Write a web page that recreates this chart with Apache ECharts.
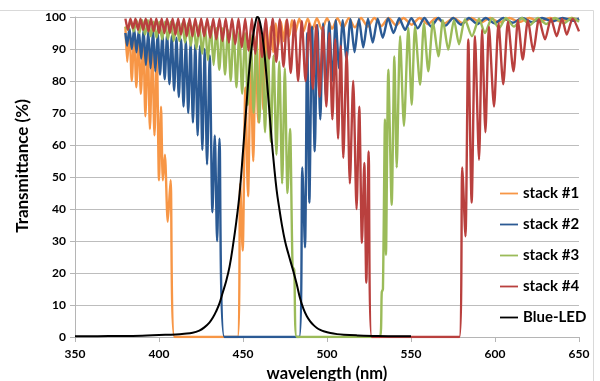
<!DOCTYPE html>
<html>
<head>
<meta charset="utf-8">
<script src="https://cdn.jsdelivr.net/npm/echarts@6/dist/echarts.min.js"></script>
<style>html,body{margin:0;padding:0;background:#fff;overflow:hidden;}#c{width:600px;height:381px;}</style>
</head>
<body>
<div id="c"></div>
<script>
var seriesNames = ['stack #1', 'stack #2', 'stack #3', 'stack #4', 'Blue-LED'];
var xTicks = [350, 400, 450, 500, 550, 600, 650];
var yTicks = [0, 10, 20, 30, 40, 50, 60, 70, 80, 90, 100];

var stack1 = [
[380,97],[381.1,86],[382.4,96],[383.8,80],[385.2,95],[386.5,78],[387.9,94],[389.2,76],[390.6,93],[391.9,69],[393.3,92],[394.6,65],[396,91],[397.3,63],[398.7,89],[400,49],[401.2,72],[402.3,49],[403.5,57],[405.2,36],[406.9,49],[409.2,0],
[446.8,0],[448.3,48],[449.8,27],[451.4,78],[453,44],[454.6,86],[456.1,55],[457.6,91],[459.1,67],[460.6,94],[462.1,71],[463.6,96],[465,86],[466.5,97],[468,89],[469.5,98],[471,91],[472.6,98.5],[474.2,92.5],[475.8,99],[477.5,94],[479.2,99],[481,95],[483.5,99.5],[486,95.5],[488.5,99.5],[491.2,96],[494,99.6],[497,96],[500,99.6],[503,96.3],[506.2,99.6],[509.5,96.5],[513,99.6],[516.6,96.8],[520.3,99.7],[524.2,97],[528.2,99.7],[532.4,97.2],[536.7,99.7],[541.1,97.4],[545.6,99.7],[550.3,97.6],[555.1,99.7],[560,97.8],[565,99.7],[570.1,98],[575.3,99.7],[580.6,98.1],[586,99.7],[591.5,98.2],[597.1,99.7],[602.8,98.3],[608.6,99.7],[614.5,98.4],[620.5,99.7],[626.6,98.5],[632.8,99.7],[639.1,98.6],[645.5,99.7],[650,98.8]
];

var stack2 = [
[380,95],[381,91],[382.4,96.5],[383.8,90],[385.2,96.5],[386.6,89],[388,96],[389.4,87],[390.8,96],[392.2,85],[393.6,95.5],[395,84],[396.4,95.5],[397.8,83],[399.2,95],[400.6,82],[402,95],[403.4,80.5],[404.8,94.5],[406.2,79],[407.6,94],[409,77],[410.4,93.5],[411.8,75],[413.2,93],[414.6,72],[416,92.5],[417.4,70],[418.8,92],[420.2,67],[421.6,91.5],[423,63],[424.4,91],[425.8,58.5],[427.2,90],[428.6,54],[430.2,88],[431.8,39],[433.2,63],[434.6,30],[436,62],[438.9,0],
[483.5,0],[485.3,53],[486.9,28],[488.2,95],[489.5,42],[491.1,97],[492.7,58],[494.3,97.5],[496,68],[497.7,98],[499.4,75],[501.3,98.5],[503.2,80],[505.2,99],[507.2,84],[509.4,99],[511.6,87],[514,99.3],[516.4,89],[519,99.4],[521.6,90.5],[524.4,99.5],[527.2,92],[530.2,99.5],[533.2,93.5],[536.4,99.6],[539.6,95],[543,99.6],[546.5,96],[550.2,99.6],[554,96.5],[558,99.7],[562,97],[566.3,99.7],[570.6,97.3],[575.1,99.7],[579.7,97.6],[584.5,99.7],[589.4,97.8],[594.5,99.7],[599.7,98],[605,99.7],[610.5,98.2],[616.2,99.7],[622,98.4],[628,99.7],[634,98.6],[640.3,99.7],[646.7,98.8],[650,99.5]
];

var stack3 = [
[380,97],[381.5,96],[383.2,99],[384.9,95.5],[386.6,99],[388.3,95],[390,99],[391.7,94.5],[393.4,99],[395.1,94],[396.8,98.5],[398.5,93.5],[400.2,98.5],[401.9,93],[403.6,98.5],[405.3,93],[407,98.5],[408.7,92.5],[410.4,98],[412.1,92.5],[413.8,98],[415.5,92],[417.2,98],[418.9,91],[420.6,97.5],[422.3,90],[424,97.5],[425.7,88.5],[427.4,97],[429.1,86.5],[430.8,97],[432.5,85],[434.2,96.5],[435.9,83.5],[437.6,96.5],[439.3,82],[441,96],[442.7,80],[444.4,96],[446.1,78],[447.8,95.5],[449.5,76],[451.2,95],[452.9,72.5],[454.6,94.5],[456.3,70],[458,94],[459.7,67],[461.4,93],[463.1,64],[464.8,91],[466.5,61],[468.2,88],[469.9,57],[471.6,86],[473.3,48],[474.9,84],[476.5,45],[478,65],[479.5,22],[480.5,21],[482,0],
[531.5,0],[532.6,14],[533.3,15],[534.5,68],[535.1,25.7],[536.5,83.5],[538.5,41.3],[540.1,87.7],[541.5,53],[543.5,94],[545.8,66],[548.4,96.6],[550.4,72.6],[552.4,97],[555.4,78.8],[557.7,98],[560.3,83],[563.1,98.5],[566.3,87.7],[569,99],[572.2,89.8],[575.6,99],[578.6,91.5],[582.1,99.3],[586.3,94],[590.5,99.5],[594,95],[598.2,99.6],[602.4,96.5],[606.5,99.7],[611.3,97],[616,99.7],[620.8,97.5],[625.6,99.7],[630.4,97.8],[635.7,99.7],[641,98],[645.8,99.7],[650,98.5]
];

var stack4 = [
[380,99.5],[381.5,96],[383,99.5],[384.5,96.5],[386,99.5],[387.5,96],[389,99.5],[390.6,96],[392.1,99.5],[393.7,95.5],[395.2,99.5],[396.8,95.5],[398.4,99.5],[400,95],[401.6,99.5],[403.2,95],[404.8,99.5],[406.5,95],[408.1,99.5],[409.8,94.5],[411.4,99.5],[413.1,94.5],[414.8,99.5],[416.5,94],[418.2,99.5],[419.9,94],[421.6,99.5],[423.4,94],[425.1,99.5],[426.9,94],[428.7,99.5],[430.5,93.5],[432.3,99.5],[434.1,93],[436,99.5],[437.8,92.5],[439.7,99.5],[441.6,92],[443.5,99.5],[445.4,91.5],[447.3,99.5],[449.3,90.5],[451.3,99.5],[453.3,89.5],[455.3,99.5],[457.3,88.5],[459.3,99.5],[461.4,87.5],[463.5,99.5],[465.6,87],[467.7,99.5],[469.8,86],[471.9,99.3],[474.1,84.5],[476.2,99.2],[478.4,82.5],[480.6,99],[482.8,80],[485,98.8],[487.2,80],[489.4,98],[491.6,77.5],[493.6,97.5],[495.6,75],[497.6,97],[499.6,72],[501.4,95],[503.2,68],[504.9,93],[506.6,62],[508.2,91],[509.7,56],[511.7,89],[513.6,48],[515.6,80],[517.6,40],[519.2,72],[520.8,29.4],[522.2,54.4],[523.4,17],[524.8,58],[526.6,0],
[578.8,0],[580.5,53],[582.4,31.5],[584.1,93],[586.1,42],[588.1,94],[590.5,55.4],[592.3,96],[594.3,64],[596.4,97],[599.4,72],[602.1,98],[604.9,79],[607.7,98.5],[611,83],[613.7,99],[616.5,86.7],[619.6,99],[622.8,89.3],[626.2,99.3],[629.8,93],[633.3,99.5],[636.7,94],[639.9,99.5],[642.7,94.5],[646.2,99.5],[650,95.5]
];

var blueLed = [
[350,0.2],[370,0.3],[390,0.4],[400,0.6],[410,0.8],[415,1],[420,1.3],[424,2],[427,3],[430,4.5],[432,6],[434,8],[436,10.5],[438,14],[440,17.5],[442,22],[444,28.5],[446,36],[448,45],[450,58],[452,72],[454,85],[456,94],[457.5,98.5],[458.5,100],[459.5,99.5],[461,96],[462.5,90],[464,81.5],[465.5,72],[467,62],[468.5,53.5],[470,46],[471.5,40.5],[473,35.5],[475,30],[477,26],[480,20.5],[482,16.5],[484,12],[486,8.8],[488,6.5],[490,4.9],[492,3.7],[494,2.8],[496,2.2],[498,1.8],[502,1.25],[506,0.9],[510,0.7],[518,0.5],[530,0.3],[540,0.25],[550,0.2]
];

var colors = ['#F79646', '#2B5A94', '#9BBB59', '#B9403E', '#000000'];
var datasets = [stack1, stack2, stack3, stack4, blueLed];

var FONT = 'Lato, "Liberation Sans", sans-serif';
var chart = echarts.init(document.getElementById('c'), null, {renderer: 'canvas', width: 600, height: 381});
var series = datasets.map(function (d, i) {
  return {
    name: seriesNames[i],
    type: 'line',
    data: d,
    symbol: 'none',
    smooth: i === 4 ? 0.4 : 0.25,
    lineStyle: {color: colors[i], width: i === 4 ? 2 : 2.4},
    itemStyle: {color: colors[i]},
    z: 2 + i
  };
});
var lineIcon = 'path://M0,0L0,0M0,6.5L20,6.5L20,8.5L0,8.5ZM20,15L20,15';

chart.setOption({
  animation: false,
  backgroundColor: '#ffffff',
  color: colors,
  grid: {left: 75, right: 21, top: 17, bottom: 44, containLabel: false, outerBoundsMode: 'none'},
  graphic: [{
    type: 'rect', shape: {x: -3, y: 10.5, width: 596.5, height: 400},
    style: {fill: 'none', stroke: '#D9D9D9', lineWidth: 1}, silent: true, z: -10
  }],
  legend: {
    orient: 'vertical', left: 495, top: 181,
    itemWidth: 18, itemHeight: 14, itemGap: 16,
    icon: lineIcon,
    data: seriesNames,
    textStyle: {fontFamily: FONT, fontWeight: 'bold', fontSize: 15, color: '#000'}
  },
  xAxis: {
    type: 'value', min: xTicks[0], max: xTicks[xTicks.length - 1], interval: 50,
    name: 'wavelength (nm)', nameLocation: 'middle', nameGap: 22,
    nameTextStyle: {fontFamily: FONT, fontWeight: 'bold', fontSize: 16.5, color: '#000'},
    axisLine: {show: true, lineStyle: {color: '#B5B5B5', width: 1}},
    axisTick: {show: true, length: 5, lineStyle: {color: '#B5B5B5'}},
    axisLabel: {fontFamily: FONT, fontWeight: 'bold', fontSize: 12, color: '#000', margin: 11},
    splitLine: {show: false}
  },
  yAxis: {
    type: 'value', min: yTicks[0], max: yTicks[yTicks.length - 1], interval: 10,
    name: 'Transmittance (%)', nameLocation: 'middle', nameGap: 44,
    nameTextStyle: {fontFamily: FONT, fontWeight: 'bold', fontSize: 17, color: '#000', padding: [0, 0, 0, 22]},
    axisLine: {show: true, lineStyle: {color: '#B5B5B5', width: 1}},
    axisTick: {show: true, length: 5, lineStyle: {color: '#B5B5B5'}},
    axisLabel: {fontFamily: FONT, fontWeight: 'bold', fontSize: 12, color: '#000', margin: 9},
    splitLine: {show: true, lineStyle: {color: '#BDBDBD', width: 1}}
  },
  series: series
});
</script>
</body>
</html>
